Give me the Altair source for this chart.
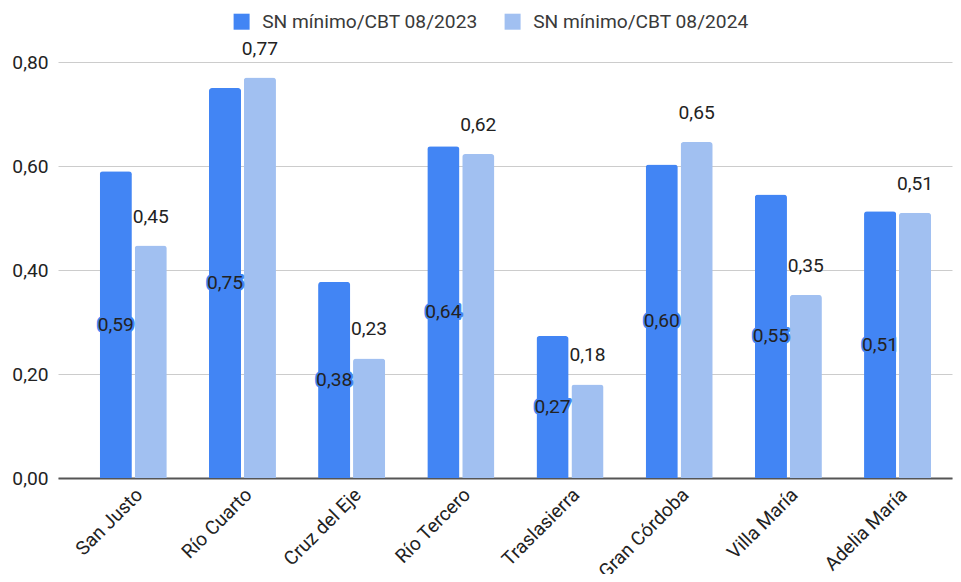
import altair as alt
import pandas as pd

categories = ["San Justo", "Río Cuarto", "Cruz del Eje", "Río Tercero",
              "Traslasierra", "Gran Córdoba", "Villa María", "Adelia María"]
series_names = ["SN mínimo/CBT 08/2023", "SN mínimo/CBT 08/2024"]
values_2023 = [0.59, 0.75, 0.377, 0.638, 0.273, 0.603, 0.545, 0.513]
values_2024 = [0.447, 0.77, 0.23, 0.623, 0.18, 0.646, 0.352, 0.51]
y_ticks = [0.0, 0.2, 0.4, 0.6, 0.8]
colors = ["#4285f4", "#a1c0f1"]

rows = []
for c, a, b in zip(categories, values_2023, values_2024):
    rows.append({"cat": c, "series": series_names[0], "v": a})
    rows.append({"cat": c, "series": series_names[1], "v": b})
df = pd.DataFrame(rows)

FONT = "Roboto"
FS = 19.2

x = alt.X("cat:N", sort=categories, title=None,
          scale=alt.Scale(paddingInner=0.386, paddingOuter=0.287, align=0.666),
          axis=alt.Axis(labelAngle=-45, labelFontSize=FS, labelColor="#222222",
                        labelFont=FONT, ticks=False, domainColor="#555555",
                        domainWidth=2, labelPadding=7, grid=False, labelLimit=300))
xo = alt.XOffset("series:N", sort=series_names, scale=alt.Scale(paddingInner=0.08))

base = alt.Chart(df).encode(x=x, xOffset=xo).transform_calculate(
    lab="replace(format(datum.v, '.2f'), '.', ',')",
    mid="datum.v / 2",
)

bars = base.mark_bar(cornerRadiusTopLeft=3, cornerRadiusTopRight=3).encode(
    y=alt.Y("v:Q", title=None,
            scale=alt.Scale(domain=[0, 0.8], nice=False),
            axis=alt.Axis(values=y_ticks, labelFontSize=FS, labelColor="#222222",
                          labelFont=FONT, ticks=False, domain=False,
                          gridColor="#cccccc", labelPadding=10,
                          labelExpr="replace(format(datum.value, '.2f'), '.', ',')")),
    color=alt.Color("series:N", sort=series_names,
                    scale=alt.Scale(domain=series_names, range=colors),
                    legend=alt.Legend(title=None, orient="none", direction="horizontal",
                                      legendX=174, legendY=-50, symbolType="square",
                                      symbolSize=256, symbolStrokeWidth=0,
                                      labelFontSize=FS, labelColor="#3a3a3a",
                                      labelFont=FONT, columnPadding=25,
                                      labelOffset=11, padding=0, labelLimit=400)),
)

first = base.transform_filter(alt.datum.series == series_names[0])
halo = first.mark_text(fontSize=FS, font=FONT, stroke=colors[0], strokeWidth=4,
                       strokeJoin="round", fill=colors[0]).encode(
    y=alt.Y("mid:Q"), text="lab:N")
lab1 = first.mark_text(fontSize=FS, font=FONT, fill="#222222").encode(
    y=alt.Y("mid:Q"), text="lab:N")

second = base.transform_filter(alt.datum.series == series_names[1])
lab2 = second.mark_text(fontSize=FS, font=FONT, fill="#222222", baseline="alphabetic",
                        dy=-23).encode(y=alt.Y("v:Q"), text="lab:N")

chart = alt.layer(bars, halo, lab1, lab2).properties(
    width=894, height=416,
    autosize=alt.AutoSizeParams(type="none"),
    padding={"left": 50, "top": 54, "right": 1, "bottom": 96},
).configure_view(stroke=None).configure_axis(gridWidth=1)

chart.save("out.html", embed_options={"renderer": "svg", "actions": False})
